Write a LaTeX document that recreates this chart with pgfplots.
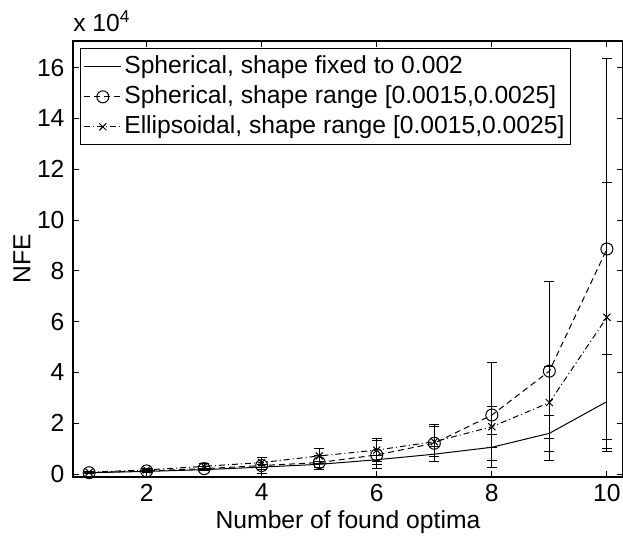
\documentclass[border=0pt]{standalone}
\usepackage{pgfplots}
\pgfplotsset{compat=1.18}
\usepackage{fontspec}
\setmainfont{Liberation Sans}

% values in units of 10^4: x, mean, error
\pgfplotstableread{
x y e
1 0.05 0.02
2 0.10 0.03
3 0.17 0.05
4 0.27 0.10
5 0.38 0.12
6 0.56 0.18
7 0.78 0.30
8 1.05 0.52
9 1.60 0.72
10 2.85 1.84
}\fixedsph
\pgfplotstableread{
x y e
1 0.05 0.03
2 0.12 0.05
3 0.21 0.08
4 0.33 0.30
5 0.45 0.26
6 0.75 0.55
7 1.21 0.72
8 2.32 2.05
9 4.05 3.52
10 8.86 7.52
}\rangesph
\pgfplotstableread{
x y e
1 0.07 0.03
2 0.16 0.06
3 0.30 0.12
4 0.45 0.21
5 0.71 0.30
6 0.94 0.45
7 1.27 0.60
8 1.86 0.80
9 2.81 1.42
10 6.17 5.29
}\rangeell

\begin{document}
\fontsize{14.8pt}{17.8pt}\selectfont
\begin{tikzpicture}[x=1pt,y=1pt]
\useasboundingbox (-43.8,-36) rectangle (330,286.2);
\begin{axis}[
    at={(0,0)}, anchor=south west,
    scale only axis, width=330pt, height=261.6pt,
    clip=false,
    xmin=0.72, xmax=10.28, ymin=-0.12, ymax=17.05,
    xtick={2,4,...,10}, ytick={0,2,...,16},
    tick align=inside, major tick length=3.5pt,
    tick style={black, line width=0.5pt},
    axis line style={line width=0.8pt},
    ticklabel style={font=\fontsize{14.8pt}{17.8pt}\selectfont},
    xticklabel style={yshift=1pt},
    /pgf/number format/assume math mode=true,
    xlabel={Number of found optima},
    ylabel={NFE},
    label style={font=\fontsize{14.8pt}{17.8pt}\selectfont},
    xlabel style={at={(axis description cs:0.5,0)}, anchor=base, yshift=-30.6pt},
    ylabel style={at={(axis description cs:-0.093,0.5)}, anchor=center},
    legend cell align=left,
    legend style={at={(rel axis cs:0.0127,0.983)}, anchor=north west,
        draw=black, line width=0.6pt, fill=white,
        font=\fontsize{14.8pt}{17.8pt}\selectfont,
        nodes={text height=11pt, text depth=3.5pt, inner sep=1.5pt},
        row sep=0.5pt, inner sep=2pt},
    legend image code/.code={
        \draw[mark repeat=2, mark phase=2, #1]
            plot coordinates {(0cm,0cm) (0.39cm,0cm) (0.78cm,0cm)};},
    every axis plot/.append style={black, line width=0.6pt},
    error bars/y dir=both, error bars/y explicit,
    error bars/error bar style={solid, line width=0.6pt},
    error bars/error mark options={rotate=90, mark size=3pt, solid, line width=0.6pt},
]
\addplot[solid, no markers] table[x=x, y=y, y error=e] {\fixedsph};
\addlegendentry{Spherical, shape fixed to 0.002}
\addplot[dash pattern=on 3.6pt off 2.4pt, mark=o, mark size=3.6pt, mark options={solid}]
    table[x=x, y=y, y error=e] {\rangesph};
\addlegendentry{Spherical, shape range [0.0015,0.0025]}
\addplot[dash pattern=on 3.6pt off 1.8pt on 0.6pt off 1.8pt, mark=x, mark size=3pt, mark options={solid}]
    table[x=x, y=y, y error=e] {\rangeell};
\addlegendentry{Ellipsoidal, shape range [0.0015,0.0025]}
\node[anchor=base west, inner sep=0pt] at ([yshift=6pt]rel axis cs:0,1) {x 10\textsuperscript{4}};
\end{axis}
\end{tikzpicture}
\end{document}
